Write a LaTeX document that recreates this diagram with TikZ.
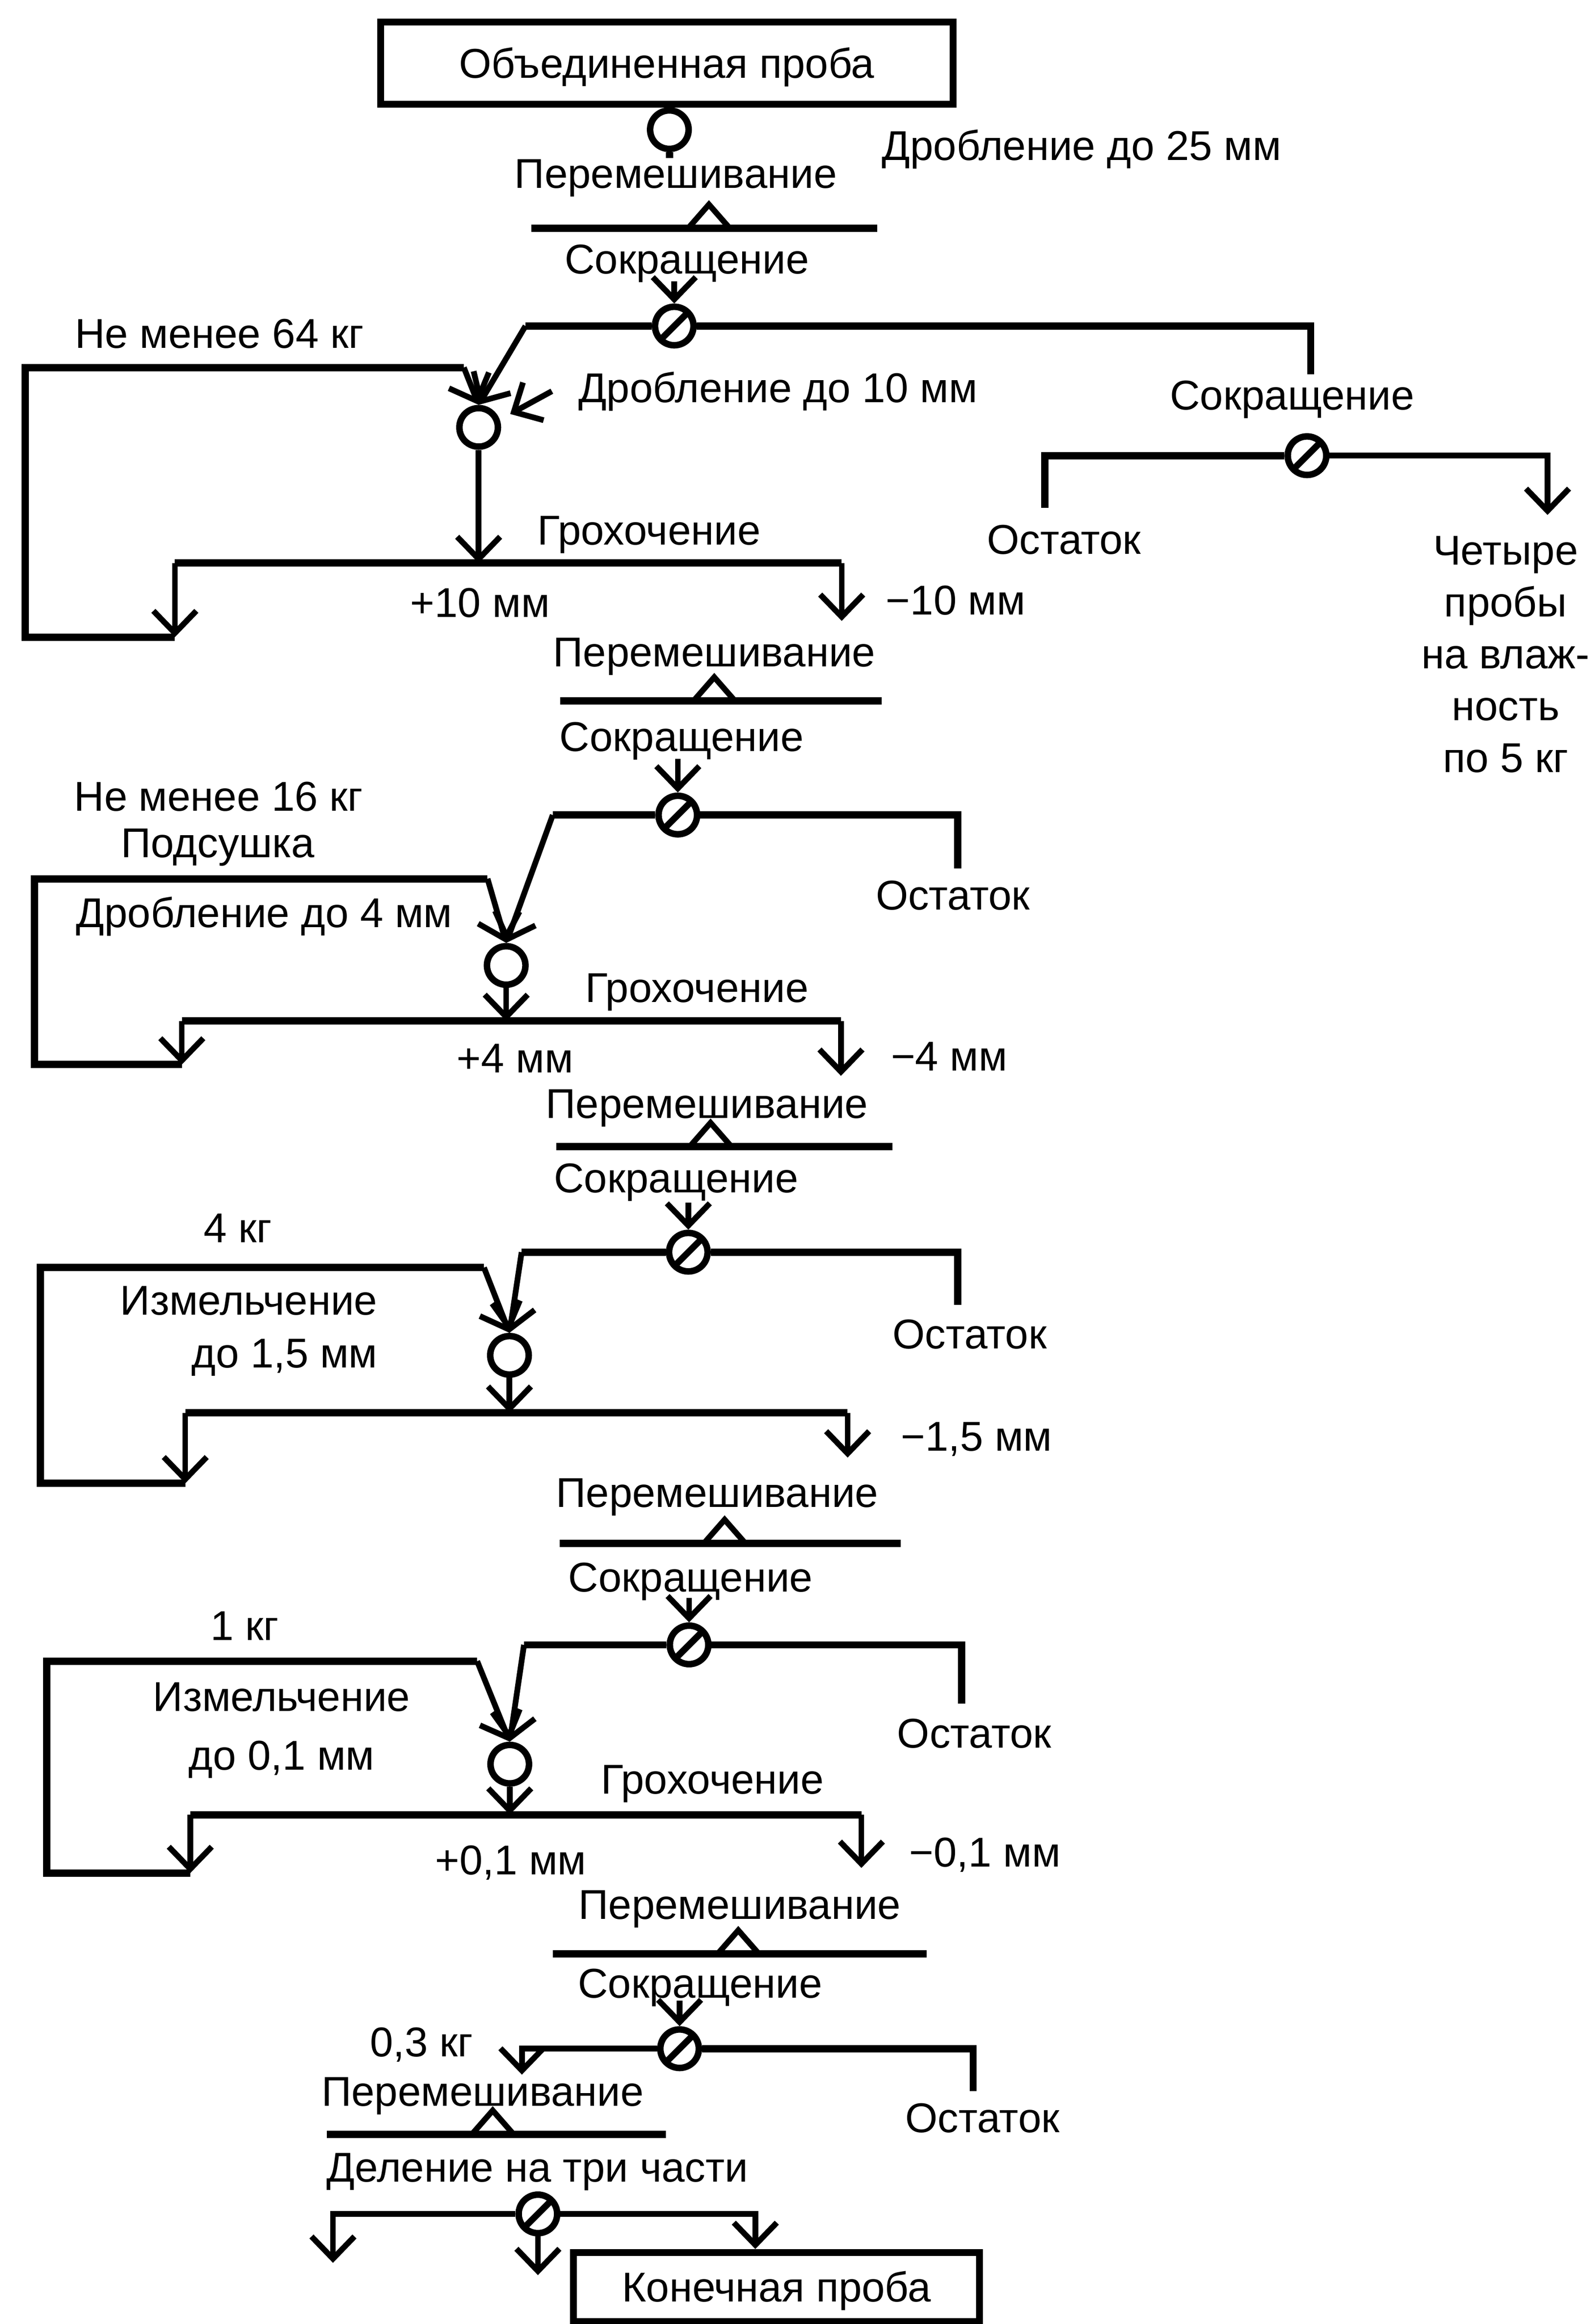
\documentclass[tikz,border=0pt]{standalone}
\usepackage{fontspec}
\setmainfont{Liberation Sans}
\usetikzlibrary{shapes}
\usetikzlibrary{arrows.meta}
\usetikzlibrary{positioning}
\usetikzlibrary{calc}
\begin{document}
\begin{tikzpicture}[x=0.02cm,y=-0.02cm,font=\fontsize{16}{20}\selectfont]
\tikzstyle{proba}=[rectangle,draw,line width=2.7pt,inner sep=0pt,text height=11.5pt,text depth=0pt]
\tikzstyle{drob}=[circle,draw,line width=2.5pt,minimum size=5.2mm,inner sep=0pt]
\tikzstyle{sokr}=[drob,path picture={\draw[line width=2.5pt] (path picture bounding box.south west) -- (path picture bounding box.north east);}]
\tikzstyle{txt}=[inner sep=0pt,anchor=base]
\tikzstyle{treug}=[line width=2.2pt]
%styles des flux
\tikzstyle{potok}=[line width=2.8pt]
\tikzstyle{suite}=[line width=2.2pt,-{Straight Barb[length=3mm,width=5.8mm]}]
\useasboundingbox (0,0) rectangle (1076.3,1568.3);
%etape 1
\node[proba,minimum width=7.73cm,minimum height=1.11cm] (obyed) at (450,42.6) {Объединенная проба};
\node[drob] (drob0) at (451.7,87.5) {};
\coordinate (d0end) at (451.7,106.6);
\node[txt] (t_drob25) at (730,108) {Дробление до 25 мм};
\node[txt] (t_mix1) at (456,127) {Перемешивание};
\coordinate (mix1a) at (358.6,154);
\coordinate (mix1b) at (592,154);
\coordinate (mix1t) at (478.4,154);
\node[txt] (t_sokr1) at (463.5,184.8) {Сокращение};
\coordinate (s1in) at (455,190);
\node[sokr] (sokr1) at (455,220) {};
\coordinate (s1l) at (354.6,220);
\coordinate (s1rd) at (884.5,252.6);
\node[txt] (t_64) at (148,234.8) {Не менее 64 кг};
\node[txt] (t_drob10) at (525,271.5) {Дробление до 10 мм};
\coordinate (t10arr) at (372.4,264);
\node[drob] (drob1) at (323,288.4) {};
\coordinate (l1c) at (313,248);
\coordinate (l1b) at (17,430);
\coordinate (l1a) at (118,430);
\node[txt] (t_groh1) at (438,367.6) {Грохочение};
\coordinate (g1l) at (118,380);
\coordinate (g1in) at (323,380);
\coordinate (g1r) at (568,380);
\coordinate (g1rt) at (568,419);
\node[txt] (t_p10) at (324,416.6) {+10 мм};
\node[txt] (t_m10) at (645,415) {−10 мм};
\node[txt] (t_sokr1b) at (872,276.5) {Сокращение};
\node[sokr] (sokr1b) at (882,307.5) {};
\coordinate (s1bl) at (705,342.7);
\coordinate (s1br) at (1044.3,347.5);
\node[txt] (t_ost1) at (718,374) {Остаток};
\node[txt,align=center,font=\fontsize{16}{19.9}\selectfont] (t_vlag) at (1016,521) {Четыре\\пробы\\на влаж-\\ность\\по 5 кг};
\draw[potok] (drob0.south) -- (d0end);
\draw[potok] (mix1a) -- (mix1b);
\draw[treug] (mix1t) ++(-14,0) -- ++(14,-16) -- ++(14,16);
\draw[suite] (s1in) -- (sokr1.north);
\draw[potok] (sokr1.west) -- (s1l);
\draw[suite] (s1l) -- (drob1.north);
\draw[potok] (sokr1.east) -| (s1rd);
\draw[potok] (l1a) -- (l1b) |- (l1c);
\draw[suite] (l1c) -- (drob1.north);
\draw[suite,shorten >=1.6mm] (t10arr) -- (drob1.20);
\draw[suite] (drob1.south) -- (g1in);
\draw[potok] (g1l) -- (g1r);
\draw[suite] (g1l) -- (l1a);
\draw[suite] (g1r) -- (g1rt);
\draw[potok] (sokr1b.west) -| (s1bl);
\draw[suite] (sokr1b.east) -| (s1br);
%etape 2
\node[txt] (t_mix2) at (482,450) {Перемешивание};
\coordinate (mix2a) at (378,473);
\coordinate (mix2b) at (595,473);
\coordinate (mix2t) at (482,473);
\node[txt] (t_sokr2) at (460,507) {Сокращение};
\coordinate (s2in) at (457.4,512);
\node[sokr] (sokr2) at (457.4,550) {};
\coordinate (s2l) at (373,550);
\coordinate (s2r) at (646.3,586.2);
\node[txt] (t_ost2) at (643,614) {Остаток};
\node[txt] (t_16) at (147.5,547.4) {Не менее 16 кг};
\node[txt] (t_podsush) at (147,578.6) {Подсушка};
\node[txt] (t_drob4) at (178.3,625.7) {Дробление до 4 мм};
\node[drob] (drob2) at (341.6,651.5) {};
\coordinate (l2c) at (329,593);
\coordinate (l2b) at (23.2,718.4);
\coordinate (l2a) at (122.7,718.4);
\node[txt] (t_groh2) at (470.3,676.2) {Грохочение};
\coordinate (g2l) at (122.7,689);
\coordinate (g2in) at (341.6,689);
\coordinate (g2r) at (567.5,689);
\coordinate (g2rt) at (567.5,726);
\node[txt] (t_p4) at (347.6,724) {+4 мм};
\node[txt] (t_m4) at (640.5,722.6) {−4 мм};
\draw[potok] (mix2a) -- (mix2b);
\draw[treug] (mix2t) ++(-14,0) -- ++(14,-16) -- ++(14,16);
\draw[suite] (s2in) -- (sokr2.north);
\draw[potok] (sokr2.west) -- (s2l);
\draw[suite] (s2l) -- (drob2.north);
\draw[potok] (sokr2.east) -| (s2r);
\draw[potok] (l2a) -- (l2b) |- (l2c);
\draw[suite] (l2c) -- (drob2.north);
\draw[suite] (drob2.south) -- (g2in);
\draw[potok] (g2l) -- (g2r);
\draw[suite] (g2l) -- (l2a);
\draw[suite] (g2r) -- (g2rt);
%etape 3
\node[txt] (t_mix3) at (477,754.5) {Перемешивание};
\coordinate (mix3a) at (375.3,773.7);
\coordinate (mix3b) at (602.2,773.7);
\coordinate (mix3t) at (479.5,773.7);
\node[txt] (t_sokr3) at (456.3,804.8) {Сокращение};
\coordinate (s3in) at (464.5,811.6);
\node[sokr] (sokr3) at (464.5,845) {};
\coordinate (s3l) at (352,845);
\coordinate (s3r) at (646.3,880.7);
\node[txt] (t_ost3) at (654.4,910) {Остаток};
\node[txt] (t_4kg) at (160.4,838.3) {4 кг};
\node[txt,anchor=base east,align=right,font=\fontsize{16}{20.4}\selectfont] (t_izm3) at (255,923) {Измельчение\\до 1,5 мм};
\node[drob] (drob3) at (343.8,914.6) {};
\coordinate (l3c) at (326.6,855.4);
\coordinate (l3b) at (27.3,1001);
\coordinate (l3a) at (125,1001);
\coordinate (g3l) at (125,953.4);
\coordinate (g3in) at (343.8,953.4);
\coordinate (g3r) at (572,953.4);
\coordinate (g3rt) at (572,983.6);
\node[txt] (t_m15) at (659,979) {−1,5 мм};
\draw[potok] (mix3a) -- (mix3b);
\draw[treug] (mix3t) ++(-14,0) -- ++(14,-16) -- ++(14,16);
\draw[suite] (s3in) -- (sokr3.north);
\draw[potok] (sokr3.west) -- (s3l);
\draw[suite] (s3l) -- (drob3.north);
\draw[potok] (sokr3.east) -| (s3r);
\draw[potok] (l3a) -- (l3b) |- (l3c);
\draw[suite] (l3c) -- (drob3.north);
\draw[suite] (drob3.south) -- (g3in);
\draw[potok] (g3l) -- (g3r);
\draw[suite] (g3l) -- (l3a);
\draw[suite] (g3r) -- (g3rt);
%etape 4
\node[txt] (t_mix4) at (484,1017) {Перемешивание};
\coordinate (mix4a) at (377.8,1041.5);
\coordinate (mix4b) at (607.9,1041.5);
\coordinate (mix4t) at (489,1041.5);
\node[txt] (t_sokr4) at (466,1074.3) {Сокращение};
\coordinate (s4in) at (465,1078.4);
\node[sokr] (sokr4) at (465,1110) {};
\coordinate (s4l) at (353.6,1110);
\coordinate (s4r) at (649,1149.5);
\node[txt] (t_ost4) at (657.5,1179.4) {Остаток};
\node[txt] (t_1kg) at (165,1107) {1 кг};
\node[txt,align=center,font=\fontsize{16}{22.7}\selectfont] (t_izm4) at (190,1194.5) {Измельчение\\до 0,1 мм};
\node[drob] (drob4) at (344,1190.5) {};
\coordinate (l4c) at (322,1121);
\coordinate (l4b) at (31.5,1264);
\coordinate (l4a) at (128.4,1264);
\node[txt] (t_groh4) at (480.7,1210.7) {Грохочение};
\coordinate (g4l) at (128.4,1224.6);
\coordinate (g4in) at (344,1224.6);
\coordinate (g4r) at (581.3,1224.6);
\coordinate (g4rt) at (581.3,1260.5);
\node[txt] (t_p01) at (344.7,1265) {+0,1 мм};
\node[txt] (t_m01) at (664.7,1259.9) {−0,1 мм};
\draw[potok] (mix4a) -- (mix4b);
\draw[treug] (mix4t) ++(-14,0) -- ++(14,-16) -- ++(14,16);
\draw[suite] (s4in) -- (sokr4.north);
\draw[potok] (sokr4.west) -- (s4l);
\draw[suite] (s4l) -- (drob4.north);
\draw[potok] (sokr4.east) -| (s4r);
\draw[potok] (l4a) -- (l4b) |- (l4c);
\draw[suite] (l4c) -- (drob4.north);
\draw[suite] (drob4.south) -- (g4in);
\draw[potok] (g4l) -- (g4r);
\draw[suite] (g4l) -- (l4a);
\draw[suite] (g4r) -- (g4rt);
%etape 5
\node[txt] (t_mix5) at (499.2,1295) {Перемешивание};
\coordinate (mix5a) at (373,1318.6);
\coordinate (mix5b) at (625.2,1318.6);
\coordinate (mix5t) at (498.2,1318.6);
\node[txt] (t_sokr5) at (472.5,1348.2) {Сокращение};
\coordinate (s5in) at (458.6,1350);
\node[sokr] (sokr5) at (458.6,1382.5) {};
\coordinate (s5lt) at (352.2,1400);
\coordinate (s5r) at (656.7,1411);
\node[txt] (t_03) at (284.5,1387.8) {0,3 кг};
\node[txt] (t_ost5) at (663,1438.9) {Остаток};
\node[txt] (t_mix6) at (325.7,1421.3) {Перемешивание};
\coordinate (mix6a) at (220.6,1440.2);
\coordinate (mix6b) at (449.5,1440.2);
\coordinate (mix6t) at (332.5,1440.2);
\node[txt] (t_delen) at (362.7,1472.3) {Деление на три части};
\node[sokr] (sokr6) at (363,1494) {};
\coordinate (s6l) at (224.7,1527);
\coordinate (s6m) at (363,1535.3);
\coordinate (s6r) at (509.7,1494);
\node[proba,minimum width=5.48cm,minimum height=0.93cm] (konech) at (524,1543.3) {Конечная проба};
\draw[potok] (mix5a) -- (mix5b);
\draw[treug] (mix5t) ++(-14,0) -- ++(14,-16) -- ++(14,16);
\draw[suite] (s5in) -- (sokr5.north);
\draw[suite] (sokr5.west) -| (s5lt);
\draw[potok] (sokr5.east) -| (s5r);
\draw[potok] (mix6a) -- (mix6b);
\draw[treug] (mix6t) ++(-14,0) -- ++(14,-16) -- ++(14,16);
\draw[suite] (sokr6.west) -| (s6l);
\draw[suite] (sokr6.south) -- (s6m);
\draw[suite] (sokr6.east) -| (s6r |- konech.north);
\end{tikzpicture}
\end{document}
